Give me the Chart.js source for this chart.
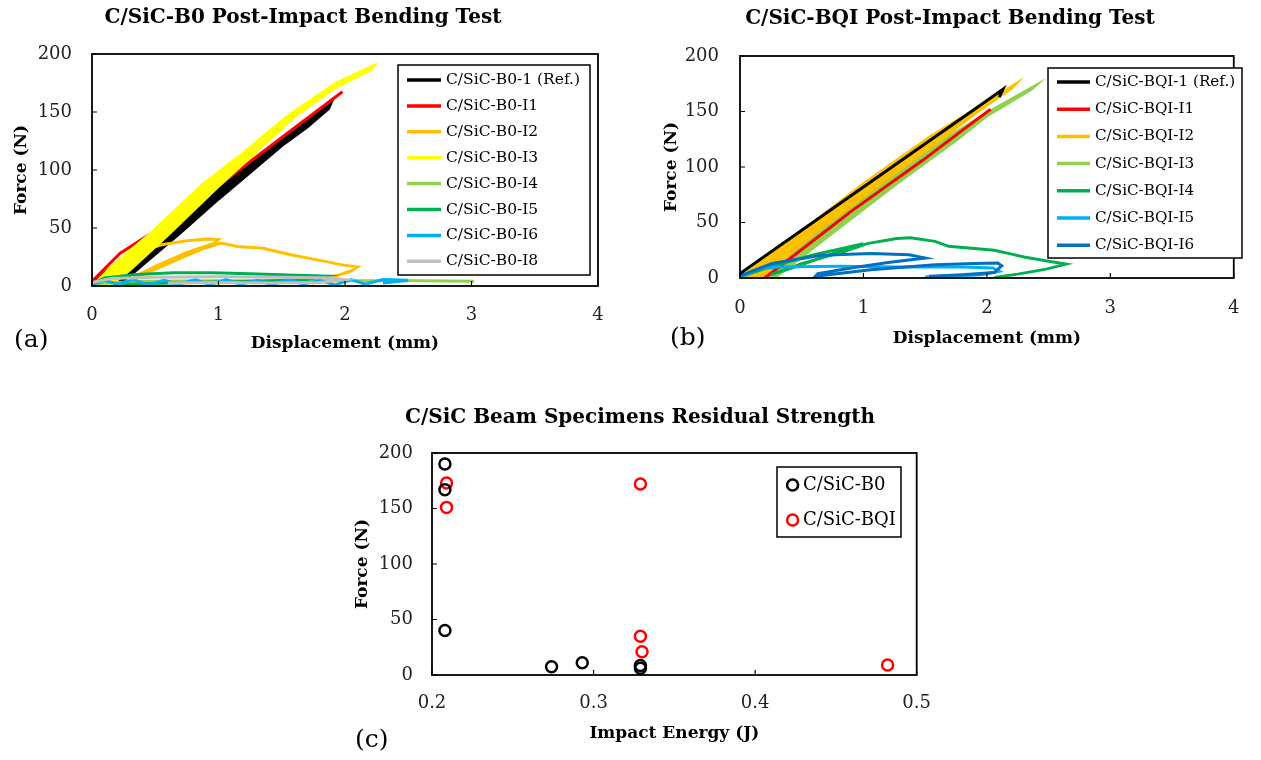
<!DOCTYPE html>
<html lang="en">
<head>
<meta charset="UTF-8">
<title>C/SiC Post-Impact Bending Tests</title>
<script src="https://cdn.jsdelivr.net/npm/chart.js@4"></script>
<style>
  body { margin: 0; background: #fff; width: 1261px; height: 760px; position: relative; overflow: hidden; }
  canvas { position: absolute; }
</style>
</head>
<body>
<canvas id="chartA" width="630" height="360" style="left:0;top:0"></canvas>
<canvas id="chartB" width="621" height="360" style="left:640px;top:0"></canvas>
<canvas id="chartC" width="620" height="380" style="left:330px;top:380px"></canvas>
<script>
// ---- data: displacement (mm), force (N) ----
const dispTicks = [0, 1, 2, 3, 4];
const forceTicks = [0, 50, 100, 150, 200];
const energyTicks = [0.2, 0.3, 0.4, 0.5];

// (a) C/SiC-B0  (cyclic tests: loading branch then unloading branch)
const b0Labels = ['C/SiC-B0-1 (Ref.)', 'C/SiC-B0-I1', 'C/SiC-B0-I2', 'C/SiC-B0-I3',
                  'C/SiC-B0-I4', 'C/SiC-B0-I5', 'C/SiC-B0-I6', 'C/SiC-B0-I8'];
const b0Ref = [[0,3],[0.25,24],[0.5,44],[0.78,66],[1.04,88],[1.3,110],[1.5,126],[1.7,142],[1.89,158],
               [1.87,153],[1.7,137],[1.5,121],[1.25,98],[1.0,75],[0.7,46],[0.45,23],[0.3,9],[0.2,1]];
const b0I1 = [[0,4],[0.22,28],[0.62,56],[1.03,89],[1.5,128],[1.98,167.5]];
const b0I2 = [[0,0],[0.2,15],[0.38,30],[0.55,35.5],[0.75,39],[0.92,40.5],[1.0,40],[0.97,37],[0.75,29],
              [0.5,17],[0.3,6],[0.45,12],[0.7,24],[0.9,33],[1.02,37],[1.15,34],[1.35,32.5],[1.57,27],
              [1.78,22.5],[1.99,18],[2.1,16.5],[2.05,13],[1.95,9.5],[1.8,5],[1.74,2]];
const b0I3 = [[0,0],[0.16,17],[0.47,46],[0.88,88],[1.2,115],[1.54,146],[1.93,175],[2.23,190],
              [2.21,187],[1.92,171],[1.6,146],[1.32,118],[1.0,86],[0.6,44],[0.3,14],[0.15,1]];
const b0I4 = [[0,2],[0.4,4],[1.0,4.5],[1.6,4.5],[2.2,4.5],[2.6,4.5],[3.02,4]];
const b0I5 = [[0,2],[0.1,7],[0.35,10],[0.65,11.5],[0.95,11.5],[1.25,10.5],[1.55,9.5],[1.85,8.5],
              [1.7,5.5],[1.3,4],[0.8,3],[0.4,2],[0.2,1]];
const b0I6 = [[0,1],[0.1,5],[0.2,1.5],[0.33,5.5],[0.44,1],[0.57,5],[0.68,1.5],[0.82,5.5],[0.93,1],
              [1.06,5.5],[1.17,1.5],[1.31,5],[1.42,1],[1.56,5.5],[1.67,1.5],[1.8,5],[1.92,1],[2.05,5.5],
              [2.16,1.5],[2.3,5.5],[2.5,5],[2.3,2.5]];
const b0I8 = [[0,3],[0.15,6.5],[0.5,7.5],[1.0,8],[1.5,7.5],[1.9,7],[2.0,5.5],[1.8,3],[1.4,2.5],
              [1.0,3],[0.6,2.5]];

// (b) C/SiC-BQI
const bqiLabels = ['C/SiC-BQI-1 (Ref.)', 'C/SiC-BQI-I1', 'C/SiC-BQI-I2', 'C/SiC-BQI-I3',
                   'C/SiC-BQI-I4', 'C/SiC-BQI-I5', 'C/SiC-BQI-I6'];
const bqiRef = [[0,4],[0.5,43],[1.0,82],[1.5,121],[1.9,152],[2.13,170],[2.1,163]];
const bqiI1 = [[0.2,0],[0.55,30],[0.9,60],[1.48,106],[1.8,133],[2.03,152]];
const bqiI2 = [[0,0],[0.5,42],[1.0,85],[1.55,128],[1.95,155],[2.23,174.5],
               [2.2,171],[1.9,148],[1.62,124],[1.14,85],[0.6,40],[0.2,3],[0.1,0]];
const bqiI3 = [[0.05,0],[0.6,45],[1.14,85],[1.7,128],[2.02,150],[2.39,173],
               [2.36,170],[2.0,146],[1.75,124],[1.27,85],[0.8,45],[0.28,0]];
const bqiI4 = [[0,1],[0.3,12],[0.6,21],[0.8,26],[1.0,31],[0.75,22],[0.45,10],[0.25,3],[0.5,13],
               [0.85,24],[1.03,31],[1.27,35.5],[1.38,36.3],[1.58,33],[1.69,28.5],[2.06,25],[2.2,21.5],
               [2.3,19],[2.5,15],[2.64,12.5],[2.48,8],[2.25,3.5],[2.06,0.5]];
const bqiI5 = [[0,1],[0.15,8],[0.3,10],[0.8,10.5],[1.3,10],[1.8,10],[2.05,9],[2.1,6],[1.95,3],
               [1.7,1.5],[1.5,1]];
const bqiI6 = [[0,2],[0.26,13],[0.66,20.5],[1.06,22],[1.37,21],[1.5,18],[1.2,14],[0.9,9],[0.63,4],
               [0.61,1.5],[0.8,4],[1.06,7.5],[1.58,12],[1.9,13],[2.09,13.5],[2.12,11],[2.06,5],
               [1.8,3],[1.53,1.5]];

// (c) residual strength vs impact energy (J)
const resLabels = ['C/SiC-B0', 'C/SiC-BQI'];
const b0Energy = [0.208, 0.208, 0.208, 0.274, 0.293, 0.329, 0.329];
const b0Force = [190, 167, 40, 7.5, 11, 8.5, 6];
const bqiEnergy = [0.209, 0.209, 0.329, 0.329, 0.33, 0.482];
const bqiForce = [173, 151, 172, 35, 21, 9];

// ---- styling ----
const SERIF = "'DejaVu Serif', serif";
const b0Colors = ['#000000', '#FF0000', '#FFC000', '#FFFF00', '#92D050', '#00B050', '#00B0F0', '#BFBFBF'];
const bqiColors = ['#000000', '#FF0000', '#FFC000', '#92D050', '#00B050', '#00B0F0', '#0070C0'];
const b0Bands = [0, 3];    // dense hysteresis bundles drawn filled
const bqiBands = [2, 3];
// stacking: lower value is painted later (on top)
const b0Stack = [0, -1, -2, -3, -4, -5, -6, -7];
const bqiStack = [-10, -3.5, -3, -2, -4, -5, -6];

const toXY = pts => pts.map(([x, y]) => ({ x, y }));

// frame, inside tick marks, boxed legend and panel letter
const decor = {
  id: 'decor',
  afterDraw(chart, args, o) {
    const { ctx, chartArea: a } = chart;
    const xs = chart.scales.x, ys = chart.scales.y;
    ctx.save();
    ctx.strokeStyle = '#000';
    ctx.lineWidth = 1.2;
    ctx.beginPath();
    xs.ticks.forEach(t => { const p = xs.getPixelForValue(t.value); ctx.moveTo(p, a.bottom); ctx.lineTo(p, a.bottom - 5); });
    ys.ticks.forEach(t => { const p = ys.getPixelForValue(t.value); ctx.moveTo(a.left, p); ctx.lineTo(a.left + 5, p); });
    ctx.stroke();
    ctx.lineWidth = 1.8;
    ctx.strokeRect(a.left, a.top, a.right - a.left, a.bottom - a.top);

    const L = o.legend;
    const bx = a.left + L.x, by = a.top + L.y;
    ctx.fillStyle = '#fff';
    ctx.fillRect(bx, by, L.w, L.h);
    ctx.lineWidth = 1.5;
    ctx.strokeRect(bx, by, L.w, L.h);
    ctx.font = L.font;
    ctx.textBaseline = 'middle';
    ctx.textAlign = 'left';
    chart.data.datasets.forEach((ds, i) => {
      const y = by + L.row0 + i * L.step;
      ctx.strokeStyle = ds.borderColor;
      if (L.marker) {
        ctx.lineWidth = 2.5;
        ctx.beginPath();
        ctx.arc(bx + L.lineX0, y, 5.5, 0, Math.PI * 2);
        ctx.stroke();
      } else {
        ctx.lineWidth = 3.5;
        ctx.beginPath();
        ctx.moveTo(bx + L.lineX0, y);
        ctx.lineTo(bx + L.lineX1, y);
        ctx.stroke();
      }
      ctx.fillStyle = '#000';
      ctx.fillText(ds.label, bx + L.textX, y);
    });

    ctx.font = "25px " + SERIF;
    ctx.fillStyle = '#000';
    ctx.fillText(o.tag.text, o.tag.x, o.tag.y);
    ctx.restore();
  }
};

function makeChart(id, g) {
  return new Chart(document.getElementById(id), {
    type: 'scatter',
    data: { datasets: g.datasets },
    plugins: [decor],
    options: {
      responsive: false,
      animation: false,
      layout: { padding: { left: g.padL, right: g.padR, top: 0, bottom: g.padB } },
      plugins: {
        legend: { display: false },
        tooltip: { enabled: false },
        title: {
          display: true, text: g.title, color: '#000',
          font: { family: SERIF, size: 20, weight: 'bold', lineHeight: 1 },
          padding: { top: g.titleTop, bottom: g.titleBottom }
        },
        decor: { legend: g.legend, tag: g.tag }
      },
      scales: {
        x: {
          type: 'linear', min: g.xTicks[0], max: g.xTicks[g.xTicks.length - 1],
          afterBuildTicks: s => { s.ticks = g.xTicks.map(v => ({ value: v })); },
          afterFit: s => { s.height = g.xAxisH; },
          grid: { display: false, drawTicks: false },
          border: { display: false },
          ticks: { padding: g.xTickPad, color: '#222', font: { family: SERIF, size: 18, lineHeight: 1 },
                   maxRotation: 0, callback: g.xFmt },
          title: { display: true, text: g.xTitle, color: '#000', padding: 0,
                   font: { family: SERIF, size: 17, weight: 'bold', lineHeight: 1 } }
        },
        y: {
          type: 'linear', min: 0, max: 200,
          afterBuildTicks: s => { s.ticks = forceTicks.map(v => ({ value: v })); },
          afterFit: s => { s.width = g.yAxisW; },
          grid: { display: false, drawTicks: false },
          border: { display: false },
          ticks: { padding: g.yTickPad, color: '#222', font: { family: SERIF, size: 18, lineHeight: 1 } },
          title: { display: true, text: 'Force (N)', color: '#000', padding: { top: g.yTitlePad, bottom: 0 },
                   font: { family: SERIF, size: 17, weight: 'bold', lineHeight: 1 } }
        }
      }
    }
  });
}

function curveSets(labels, series, colors, bands, stack) {
  return series.map((pts, i) => ({
    label: labels[i], data: toXY(pts), showLine: true, tension: 0,
    fill: bands.includes(i) ? 'shape' : false,
    borderColor: colors[i], backgroundColor: colors[i], borderWidth: 3,
    pointRadius: 0, pointHoverRadius: 0, order: stack[i]
  }));
}

makeChart('chartA', {
  title: 'C/SiC-B0 Post-Impact Bending Test', xTitle: 'Displacement (mm)',
  datasets: curveSets(b0Labels, [b0Ref, b0I1, b0I2, b0I3, b0I4, b0I5, b0I6, b0I8], b0Colors, b0Bands, b0Stack),
  xTicks: dispTicks, xFmt: v => String(v),
  padL: 8, padR: 32, padB: 7.5, titleTop: 8, titleBottom: 26,
  xAxisH: 66.5, yAxisW: 84, yTitlePad: 5.5, yTickPad: 20, xTickPad: 20,
  legend: { x: 306, y: 11, w: 192, h: 210, row0: 15, step: 25.9, lineX0: 9, lineX1: 43, textX: 48,
            font: "15.5px " + SERIF },
  tag: { text: '(a)', x: 14, y: 340 }
});

makeChart('chartB', {
  title: 'C/SiC-BQI Post-Impact Bending Test', xTitle: 'Displacement (mm)',
  datasets: curveSets(bqiLabels, [bqiRef, bqiI1, bqiI2, bqiI3, bqiI4, bqiI5, bqiI6], bqiColors, bqiBands, bqiStack),
  xTicks: dispTicks, xFmt: v => String(v),
  padL: 15, padR: 16, padB: 12.5, titleTop: 9, titleBottom: 27,
  xAxisH: 69.5, yAxisW: 85, yTitlePad: 8.5, yTickPad: 21, xTickPad: 21.5,
  legend: { x: 308, y: 12, w: 194, h: 190, row0: 14, step: 27.2, lineX0: 9, lineX1: 42, textX: 47,
            font: "15.2px " + SERIF },
  tag: { text: '(b)', x: 30, y: 338 }
});

makeChart('chartC', {
  title: 'C/SiC Beam Specimens Residual Strength', xTitle: 'Impact Energy (J)',
  datasets: [
    { label: resLabels[0], data: b0Energy.map((x, i) => ({ x, y: b0Force[i] })),
      borderColor: '#000000', backgroundColor: 'rgba(0,0,0,0)', pointRadius: 5.5, borderWidth: 2.5 },
    { label: resLabels[1], data: bqiEnergy.map((x, i) => ({ x, y: bqiForce[i] })),
      borderColor: '#FF0000', backgroundColor: 'rgba(0,0,0,0)', pointRadius: 5.5, borderWidth: 2.5 }
  ],
  xTicks: energyTicks, xFmt: v => v.toFixed(1),
  padL: 30, padR: 30, padB: 17.5, titleTop: 28, titleBottom: 25,
  xAxisH: 67.5, yAxisW: 72, yTitlePad: -5.5, yTickPad: 19, xTickPad: 19,
  legend: { x: 345, y: 14, w: 124, h: 70, row0: 18, step: 35, lineX0: 15.6, textX: 26, marker: true,
            font: "18px " + SERIF },
  tag: { text: '(c)', x: 25, y: 360 }
});
</script>
</body>
</html>
